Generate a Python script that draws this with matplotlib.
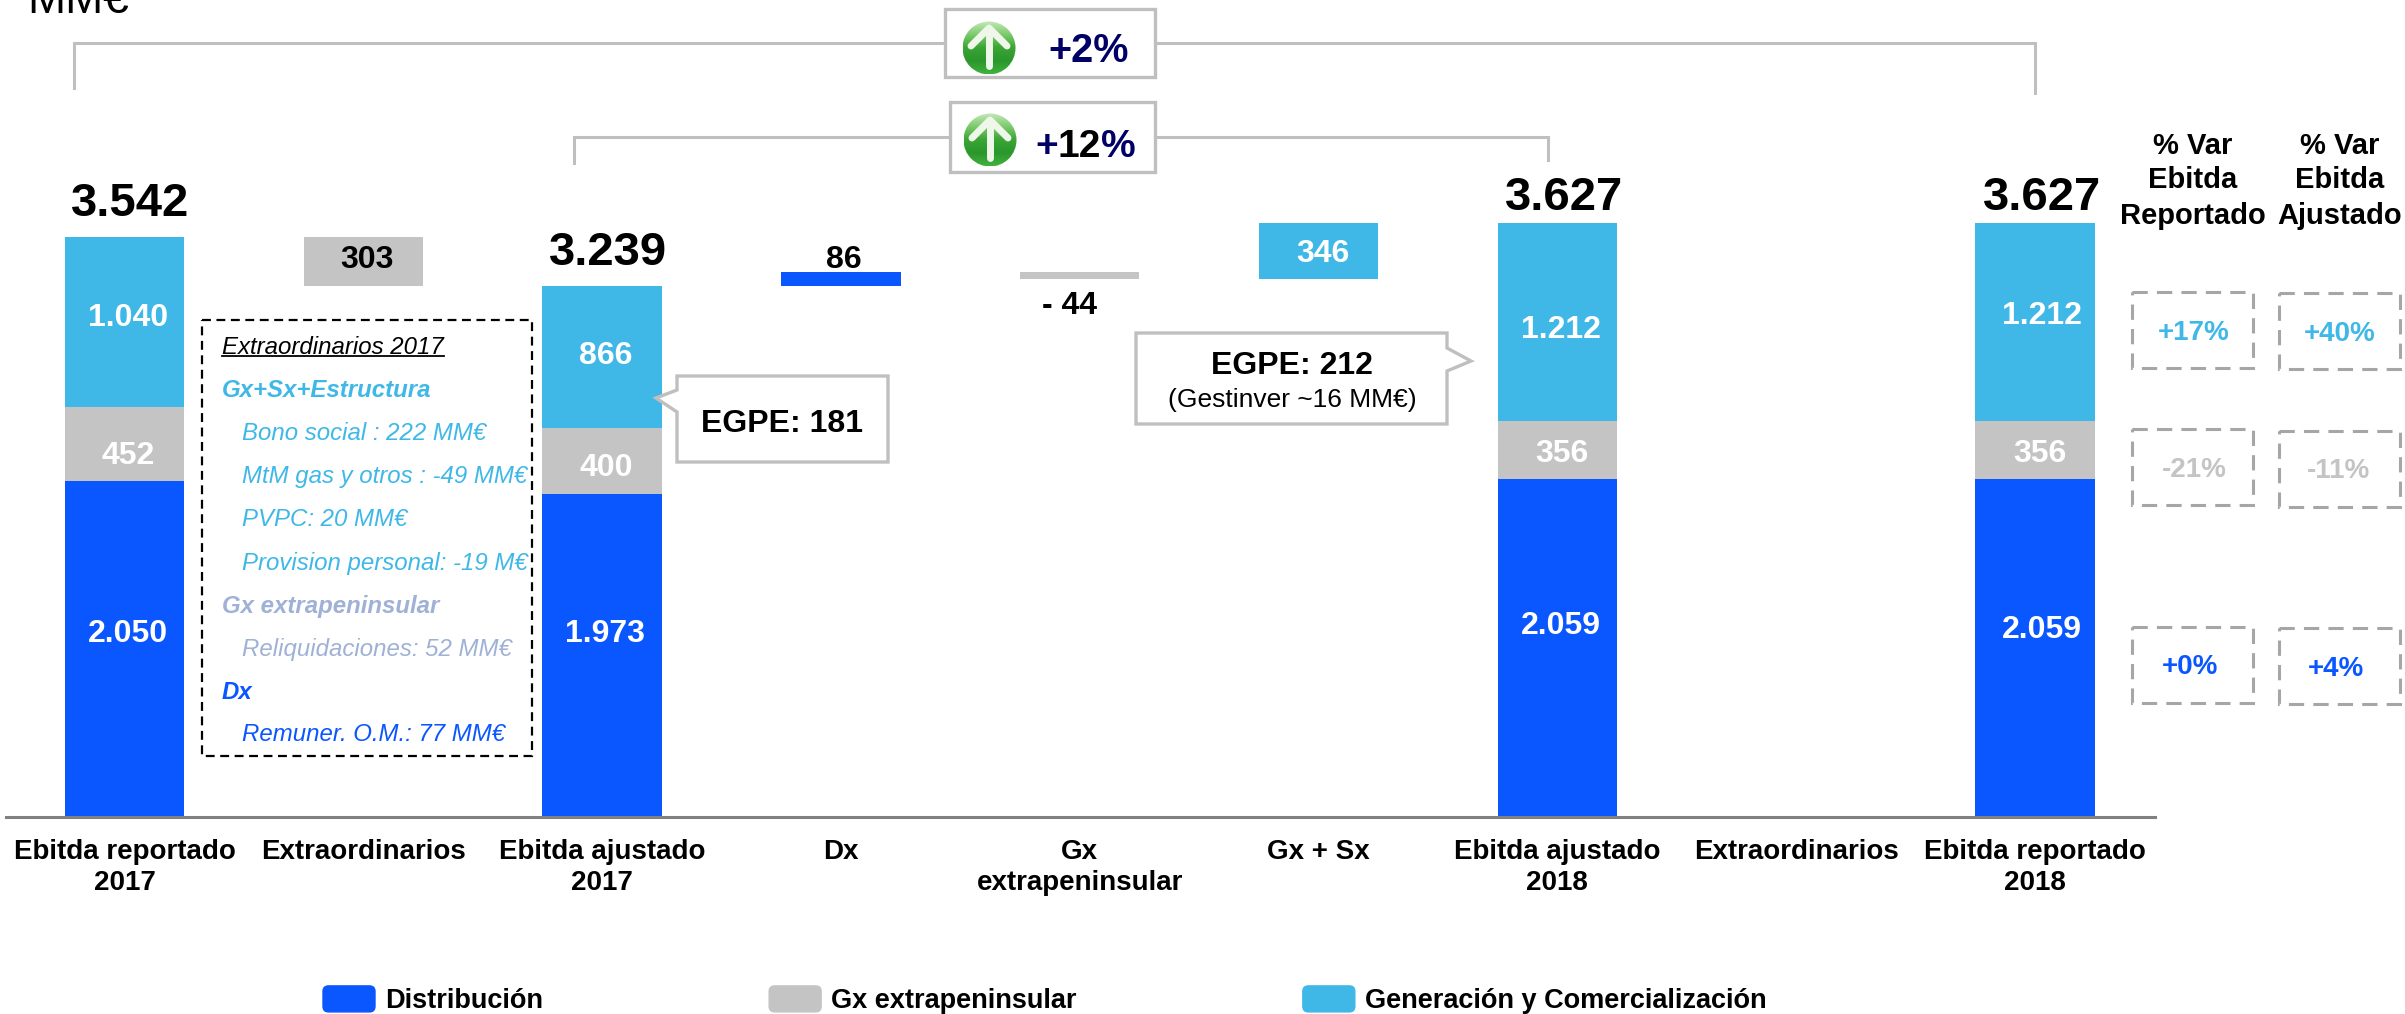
import matplotlib
matplotlib.use('Agg')
import matplotlib.pyplot as plt
import matplotlib.patches as mpatches
from matplotlib.colors import LinearSegmentedColormap
from matplotlib.legend_handler import HandlerPatch
import numpy as np

plt.rcParams['font.family'] = ['Liberation Sans', 'DejaVu Sans']

# data
categories = ['Ebitda reportado\n2017', 'Extraordinarios', 'Ebitda ajustado\n2017', 'Dx',
              'Gx\nextrapeninsular', 'Gx + Sx', 'Ebitda ajustado\n2018', 'Extraordinarios',
              'Ebitda reportado\n2018']
stack_pos = [0, 2, 6, 8]
distribucion = [2050, 1973, 2059, 2059]
gx_extra = [452, 400, 356, 356]
gen_com = [1040, 866, 1212, 1212]
totals = ['3.542', '3.239', '3.627', '3.627']

# floating bars: position, bottom, height
bridge_pos = [1, 3, 4, 5]
bridge_bottom = [3239, 3239, 3281, 3281]
bridge_height = [303, 86, 44, 346]

legend_labels = ['Distribución', 'Gx extrapeninsular', 'Generación y Comercialización']

extra_lines = ['Extraordinarios 2017', 'Gx+Sx+Estructura', 'Bono social : 222 MM€', 'MtM gas y otros : -49 MM€',
               'PVPC: 20 MM€', 'Provision personal: -19 M€', 'Gx extrapeninsular', 'Reliquidaciones: 52 MM€',
               'Dx', 'Remuner. O.M.: 77 MM€']

var_reportado = ['+17%', '-21%', '+0%']
var_ajustado = ['+40%', '-11%', '+4%']

BLUE = '#0A56FF'
GREY = '#C4C4C4'
SKY = '#3FB8E8'
LAV = '#9FB1D6'
LINE = '#BFBFBF'
NAVY = '#000066'

W, H = 2405, 1014
fig = plt.figure(figsize=(W / 100, H / 100), dpi=100)

# main axes: 0.1637 px per unit, baseline at y=816.5
ymax = 3700
top_px = 816.5 - ymax * 0.1637
ax = fig.add_axes([6 / W, 1 - 816.5 / H, (2155 - 6) / W, (816.5 - top_px) / H])
ax.set_xlim(-0.4963, 8.5025)
ax.set_ylim(0, ymax)
ax.patch.set_alpha(0)

d = np.array(distribucion)
g = np.array(gx_extra)
c = np.array(gen_com)
ax.bar(stack_pos, d, width=0.5, color=BLUE)
ax.bar(stack_pos, g, width=0.5, bottom=d, color=GREY)
ax.bar(stack_pos, c, width=0.5, bottom=d + g, color=SKY)
ax.bar(bridge_pos, bridge_height, width=0.5, bottom=bridge_bottom, color=[GREY, BLUE, GREY, SKY])

for s in ['top', 'left', 'right']:
    ax.spines[s].set_visible(False)
ax.spines['bottom'].set_color('#808080')
ax.spines['bottom'].set_linewidth(2.2)
ax.set_yticks([])
ax.set_xticks(range(len(categories)))
ax.set_xticklabels(categories, fontsize=20, fontweight='bold', linespacing=1.25)
ax.tick_params(axis='x', length=0, pad=16)


def round_patch(legend, orig_handle, xdescent, ydescent, width, height, fontsize):
    return mpatches.FancyBboxPatch((-xdescent + 4, -ydescent + 4), width - 8, height - 8,
                                   boxstyle='round,pad=4,rounding_size=4')


handles = [mpatches.Patch(color=col, label=lab) for col, lab in zip([BLUE, GREY, SKY], legend_labels)]
fig.legend(handles=handles, ncol=3, frameon=False, prop={'weight': 'bold', 'size': 19.5},
           loc='center left', bbox_to_anchor=(323 / W, 1 - 1000 / H), borderpad=0, borderaxespad=0,
           handlelength=1.92, handleheight=1.1, handletextpad=0.37, columnspacing=8.35,
           handler_map={mpatches.Patch: HandlerPatch(patch_func=round_patch)})

# overlay in pixel coords for the annotations
ov = fig.add_axes([0, 0, 1, 1])
ov.set_xlim(0, W)
ov.set_ylim(H, 0)
ov.axis('off')
ov.patch.set_alpha(0)


def put(x, y, t, fs, ha='center', **kw):
    # y is the middle of the capitals, not of the text box
    return ov.text(x, y + fs / 2, t, fontsize=fs, ha=ha, va='baseline', **kw)


ov.text(27, 13, 'MM€', fontsize=33, ha='left', va='baseline')

# totals
for t, x, y in zip(totals, [130, 608, 1564, 2042], [199, 248, 193, 193]):
    put(x, y, t, 34, fontweight='bold')

# labels in bars
labs = ['1.040', '452', '2.050', '866', '400', '1.973', '346', '1.212', '356', '2.059', '1.212', '356', '2.059']
lx = [128, 128, 128, 606, 606, 604.5, 1323, 1561, 1562, 1560.5, 2042, 2040, 2042]
ly = [315, 452, 631, 352, 465, 631, 250, 327, 450, 623, 313, 450, 626]
for t, x, y in zip(labs, lx, ly):
    put(x, y, t, 23, fontweight='bold', color='white')
for t, x, y in zip(['303', '86', '- 44'], [367, 843.5, 1070], [257, 257, 302]):
    put(x, y, t, 23, fontweight='bold', color='black')

# brackets
ov.plot([74, 74, 2035, 2035], [88, 43, 43, 93], color=LINE, lw=2.2, solid_joinstyle='miter')
ov.plot([574, 574, 1548, 1548], [163, 137, 137, 160], color=LINE, lw=2.2, solid_joinstyle='miter')

GREENS = LinearSegmentedColormap.from_list('g', ['#C4E8B8', '#7CCB6C', '#3BA535', '#2A962C', '#3FB23C'])


def green_icon(cx, cy, r=26.5):
    # green ball, lighter on top, with a white arrow
    grad = np.linspace(0, 1, 80).reshape(-1, 1)
    im = ov.imshow(grad, extent=[cx - r, cx + r, cy + r, cy - r], cmap=GREENS, zorder=4,
                   interpolation='bilinear', aspect='auto')
    im.set_clip_path(mpatches.Circle((cx, cy), r, transform=ov.transData))
    ov.plot([cx, cx], [cy - 18, cy + 18], color='#EEF7EA', lw=5, solid_capstyle='round', zorder=5)
    ov.plot([cx - 18, cx, cx + 18], [cy - 2, cy - 20, cy - 2], color='#EEF7EA', lw=5,
            solid_capstyle='round', solid_joinstyle='round', zorder=5)


ov.add_patch(mpatches.Rectangle((945, 9), 210, 68, facecolor='white', edgecolor=LINE, lw=2.4, zorder=3))
ov.add_patch(mpatches.Rectangle((950, 102), 205, 70, facecolor='white', edgecolor=LINE, lw=2.4, zorder=3))
green_icon(989, 48)
green_icon(990, 140)
put(1089, 48, '+2%', 28.5, fontweight='bold', color=NAVY, zorder=5)
# "12" is black in the original, only + and % are navy
for x, t, col in zip([1035, 1057.7, 1100.9], ['+', '12', '%'], [NAVY, 'black', NAVY]):
    put(x, 143, t, 28, ha='left', fontweight='bold', color=col, zorder=5)
ov.set_xlim(0, W)
ov.set_ylim(H, 0)

# dashed list box
ov.add_patch(mpatches.Rectangle((202, 320), 330, 436, facecolor='white', edgecolor='black', lw=1.6,
                                linestyle=(0, (4, 2.5)), zorder=2))
line_y = [345, 388, 431, 474, 517, 561, 604, 647, 690, 732]
line_x = [222, 222, 242, 242, 242, 242, 222, 242, 222, 242]
line_col = ['black', SKY, SKY, SKY, SKY, SKY, LAV, LAV, BLUE, BLUE]
line_w = ['normal', 'bold', 'normal', 'normal', 'normal', 'normal', 'bold', 'normal', 'bold', 'normal']
for t, x, y, col, w in zip(extra_lines, line_x, line_y, line_col, line_w):
    put(x, y, t, 17.3, ha='left', style='italic', fontweight=w, color=col, zorder=3)
ov.plot([222, 444], [356, 356], color='black', lw=1.3, zorder=3)

# callouts
call1 = [(677, 376), (888, 376), (888, 462), (677, 462), (677, 412), (656, 398), (677, 390)]
call2 = [(1136, 333), (1447, 333), (1447, 348), (1471, 361), (1447, 371), (1447, 424), (1136, 424)]
for pts in [call1, call2]:
    ov.add_patch(mpatches.Polygon(pts, closed=True, facecolor='white', edgecolor=LINE, lw=2.4, zorder=3,
                                  joinstyle='miter'))
put(782, 420, 'EGPE: 181', 23, fontweight='bold', zorder=4)
put(1292, 363, 'EGPE: 212', 23, fontweight='bold', zorder=4)
put(1292, 398, '(Gestinver ~16 MM€)', 19, zorder=4)

# % var columns
for x, head in zip([2193, 2340], ['Reportado', 'Ajustado']):
    for y, t in zip([143, 178, 213], ['% Var', 'Ebitda', head]):
        put(x, y, t, 21, fontweight='bold')

box_x = [2132, 2279]
box_y = [[292, 429, 627], [293, 431, 628]]
for bx, bys in zip(box_x, box_y):
    for by in bys:
        ov.add_patch(mpatches.Rectangle((bx, by), 121, 76, facecolor='white', edgecolor='#A6A6A6', lw=2.2,
                                        linestyle=(0, (5, 3))))
val_col = [SKY, GREY, BLUE]
for t, x, y, col in zip(var_reportado, [2194, 2194, 2190], [330, 467, 664], val_col):
    put(x, y, t, 20, fontweight='bold', color=col)
for t, x, y, col in zip(var_ajustado, [2340, 2339, 2336], [331, 468, 666], val_col):
    put(x, y, t, 20, fontweight='bold', color=col)

fig.savefig('out.png', dpi=100)
